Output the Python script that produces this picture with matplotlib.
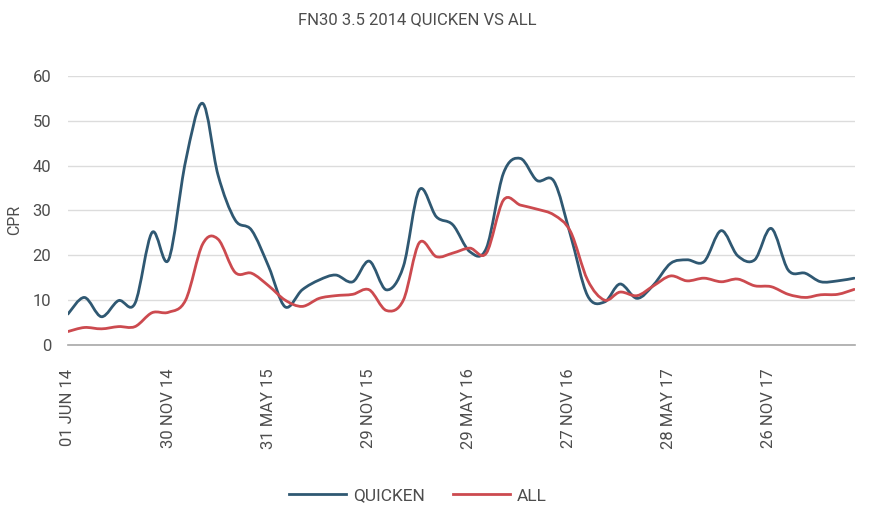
import numpy as np
import pandas as pd
import matplotlib
matplotlib.use("Agg")
import matplotlib.pyplot as plt
import matplotlib.dates as mdates
from matplotlib.path import Path
from matplotlib.patches import PathPatch
from matplotlib.lines import Line2D

plt.rcParams['font.family'] = ['Roboto', 'DejaVu Sans']

# monthly CPR, Jun 2014 - May 2018
months = pd.date_range("2014-06-01", periods=48, freq="MS")
quicken = [6.9, 10.6, 6.3, 9.9, 9.3, 25.1, 19.0, 41.0, 53.9, 37.9, 27.9, 25.6,
           17.5, 8.5, 12.3, 14.5, 15.6, 14.1, 18.7, 12.3, 17.5, 34.6, 28.6, 26.8,
           20.8, 21.6, 38.3, 41.6, 36.7, 36.5, 24.5, 11.0, 9.6, 13.6, 10.4, 13.4,
           18.2, 19.0, 18.6, 25.5, 19.9, 19.0, 26.0, 16.7, 16.0, 14.1, 14.3, 14.9]
all_cpr = [3.0, 3.9, 3.6, 4.1, 4.1, 7.2, 7.3, 10.0, 22.5, 23.6, 16.2, 16.0,
           13.2, 10.0, 8.6, 10.4, 11.0, 11.3, 12.3, 7.7, 10.0, 22.8, 19.7, 20.5,
           21.6, 20.5, 32.3, 31.2, 30.3, 29.0, 25.3, 14.5, 10.0, 11.8, 11.0, 13.2,
           15.4, 14.3, 14.9, 14.1, 14.7, 13.2, 13.0, 11.3, 10.6, 11.2, 11.3, 12.4]
tick_dates = ["2014-06-01", "2014-11-30", "2015-05-31", "2015-11-29",
              "2016-05-29", "2016-11-27", "2017-05-28", "2017-11-26"]
tick_labels = ["01 JUN 14", "30 NOV 14", "31 MAY 15", "29 NOV 15",
               "29 MAY 16", "27 NOV 16", "28 MAY 17", "26 NOV 17"]

blue = "#2f5872"
red = "#cc4a4f"
txt = "#4d4d4d"


def smooth_path(x, y):
    # catmull-rom style bezier through the points (like excel's smoothed line)
    pts = np.column_stack([x, y])
    verts = [pts[0]]
    codes = [Path.MOVETO]
    n = len(pts)
    for i in range(n - 1):
        p0 = pts[max(i - 1, 0)]
        p1 = pts[i]
        p2 = pts[i + 1]
        p3 = pts[min(i + 2, n - 1)]
        c1 = p1 + (p2 - p0) / 6.0
        c2 = p2 - (p3 - p1) / 6.0
        verts += [c1, c2, p2]
        codes += [Path.CURVE4] * 3
    return Path(verts, codes)


fig = plt.figure(figsize=(8.71, 5.27), dpi=100)
ax = fig.add_axes([0.078, 0.3454, 0.904, 0.5104])

xnum = mdates.date2num(months.to_pydatetime())
for vals, col in [(quicken, blue), (all_cpr, red)]:
    ax.add_patch(PathPatch(smooth_path(xnum, vals), fill=False,
                           edgecolor=col, lw=2, capstyle="round",
                           joinstyle="round"))

ax.set_xlim(xnum[0], xnum[-1] + 2)
ax.set_ylim(0, 60)
ax.set_yticks(range(0, 61, 10))
ax.yaxis.grid(True, color="#dcdcdc", lw=1)
ax.set_axisbelow(True)
for s in ["top", "right", "left"]:
    ax.spines[s].set_visible(False)
ax.spines["bottom"].set_color("#a8a8a8")
ax.spines["bottom"].set_linewidth(1.2)

ax.set_xticks(mdates.date2num(pd.to_datetime(tick_dates).to_pydatetime()))
ax.set_xticklabels(tick_labels, rotation=90, ha="center", va="top")
ax.tick_params(axis="x", length=0, pad=17, labelsize=12, labelcolor=txt)
ax.tick_params(axis="y", length=0, pad=12, labelsize=12, labelcolor=txt)

ax.set_ylabel("CPR", fontsize=11.5, color=txt)
ax.yaxis.set_label_coords(-0.058, 0.465)
fig.text(0.479, 1 - 20 / 527, "FN30 3.5 2014 QUICKEN VS ALL",
         ha="center", va="center", fontsize=12, color=txt)

handles = [Line2D([], [], color=blue, lw=2), Line2D([], [], color=red, lw=2)]
fig.legend(handles, ["QUICKEN", "ALL"], loc="center",
           bbox_to_anchor=(418 / 871, 1 - 496 / 527), ncol=2, frameon=False,
           fontsize=12.5, handlelength=3.3, columnspacing=1.6,
           handletextpad=0.4, labelcolor=txt)

fig.savefig("out.png", dpi=100)
